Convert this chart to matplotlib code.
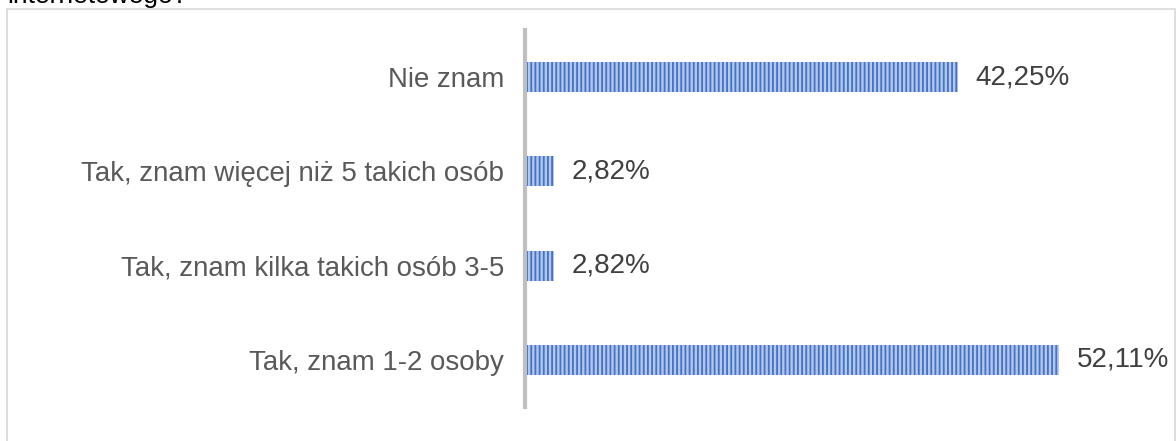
import matplotlib.pyplot as plt
from matplotlib.patches import Rectangle

categories = ["Tak, znam 1-2 osoby", "Tak, znam kilka takich osób 3-5",
              "Tak, znam więcej niż 5 takich osób", "Nie znam"]
values = [52.11, 2.82, 2.82, 42.25]
labels = ["52,11%", "2,82%", "2,82%", "42,25%"]

plt.rcParams['font.family'] = ['Liberation Sans', 'DejaVu Sans']
plt.rcParams['hatch.linewidth'] = 1.3

W, H = 1176, 441
fig = plt.figure(figsize=(W / 100, H / 100), dpi=100)

# outer frame of the chart area
fig.patches.append(Rectangle((7 / W, -0.05), (1175 - 7) / W, 1.05 - 9 / H,
                             transform=fig.transFigure, fill=False,
                             edgecolor='#d9d9d9', lw=1.2))
# title, cut off at the top of the image
fig.text(7 / W, 1 - 3 / H, "internetowego?", fontsize=19, color='#000000',
         va='baseline', ha='left')

ax = fig.add_axes([525 / W, 34 / H, (W - 525) / W, (407 - 30) / H])
ypos = range(len(categories))
ax.barh(ypos, values, height=0.32, color='#b3c7ec', edgecolor='#4472c4',
        hatch='||||', lw=0)

for y, v, t in zip(ypos, values, labels):
    ax.text(v + 1.7, y, t, va='center', ha='left', fontsize=20, color='#404040')

ax.set_xlim(0, (W - 525) / 10.25)
ax.set_ylim(-0.5, 3.5)
ax.set_yticks(list(ypos))
ax.set_yticklabels(categories, fontsize=19.9, color='#595959')
ax.tick_params(axis='y', length=0, pad=15)
ax.set_xticks([])
for s in ['top', 'right', 'bottom']:
    ax.spines[s].set_visible(False)
ax.spines['left'].set_color('#bfbfbf')
ax.spines['left'].set_linewidth(3)
ax.patch.set_alpha(0)

fig.savefig("out.png", dpi=100)
